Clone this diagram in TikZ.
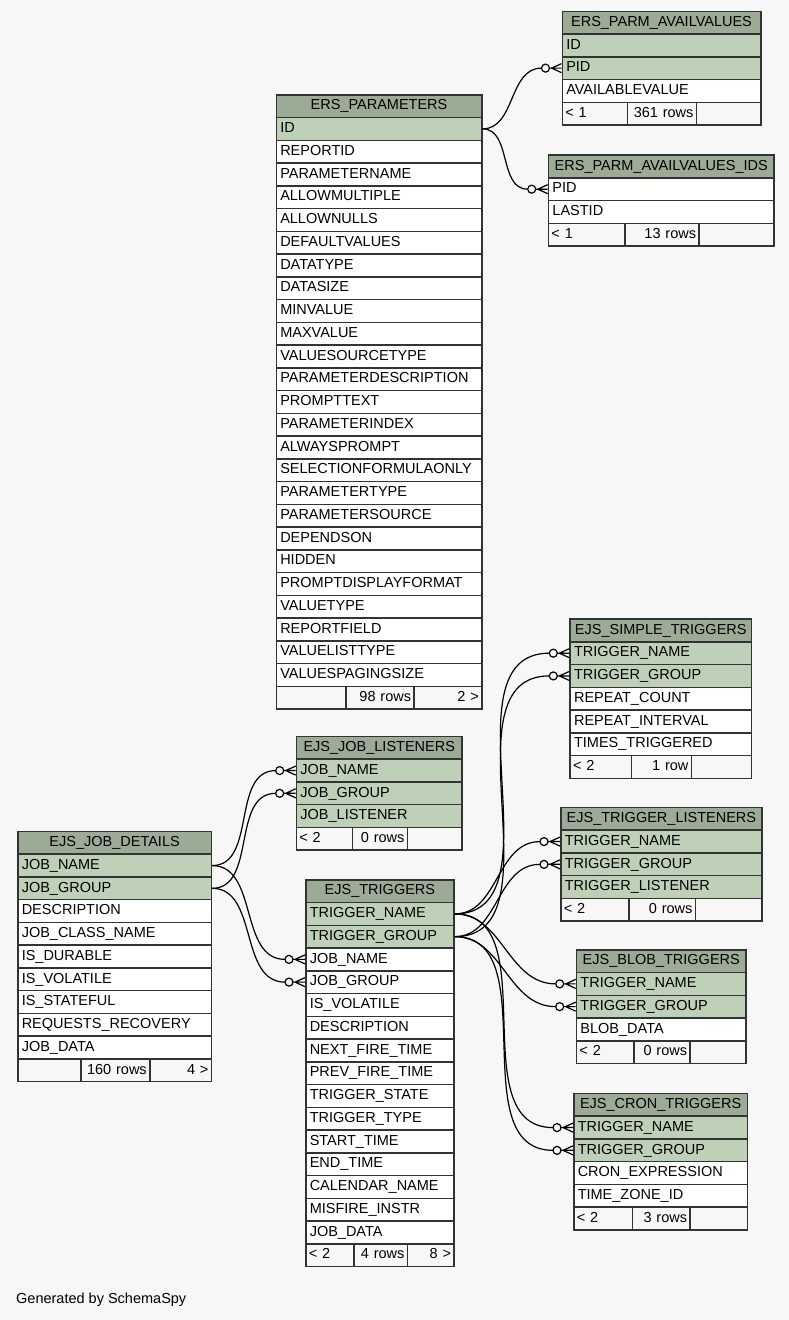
\documentclass[tikz,border=0pt]{standalone}
\usepackage{fontspec}
\setmainfont{Liberation Sans}
\usetikzlibrary{calc}

\definecolor{pagebg}{HTML}{F7F7F7}
\definecolor{headcol}{HTML}{9BAB96}
\definecolor{keycol}{HTML}{BED1B8}
\newcommand\rowh{22.75}

% one table: name, left, top, width, title, colour/field list
\newcommand\dbtable[6]{%
  \pgfmathsetmacro\cellw{#4-8}
  \node[headrow, text width=\cellw pt] (#1-h) at (#2,#3) {#5};
  \foreach [count=\i] \fc/\txt in {#6}
    \node[fieldrow, fill=\fc, text width=\cellw pt] (#1-\i) at (#2,#3+\i*\rowh) {\txt};
}
% footer line: name, top, left, cut, cut, right, three texts
\newcommand\dbfoot[9]{%
  \pgfmathsetmacro\wa{#4-#3-6}
  \pgfmathsetmacro\wb{#5-#4-6}
  \pgfmathsetmacro\wc{#6-#5-6}
  \node[footcell, text width=\wa pt, align=left] (#1-f1) at (#3,#2) {#7};
  \node[footcell, text width=\wb pt, align=right] (#1-f2) at (#4,#2) {#8};
  \node[footcell, text width=\wc pt, align=right] (#1-f3) at (#5,#2) {#9};
}
% foreign key: parent field, child field
\newcommand\fk[2]{%
  \draw[fkline] (#1.east) to[out=0, in=180] ([xshift=-20pt]#2.west);
  \draw[fkline] ([xshift=-12pt]#2.west) -- (#2.west)
    ([xshift=-10pt]#2.west) -- ([yshift=4.5pt]#2.west)
    ([xshift=-10pt]#2.west) -- ([yshift=-4.5pt]#2.west);
  \draw[fkline, fill=pagebg] ([xshift=-16pt]#2.west) circle[radius=4pt];
}

\begin{document}
\begin{tikzpicture}[x=1pt, y=-1pt,
    every node/.style={font=\fontsize{14.5}{16}\selectfont},
    tablecell/.style={draw=black!80, line width=1.5pt, anchor=north west,
      inner xsep=4pt, inner ysep=0pt, minimum height=\rowh pt,
      text height=10.5pt, text depth=3pt},
    headrow/.style={tablecell, fill=headcol, align=center},
    fieldrow/.style={tablecell, align=left},
    footcell/.style={tablecell, fill=pagebg, inner xsep=3pt},
    fkline/.style={line width=1.2pt, black}]

    \fill[pagebg] (0,0) rectangle (789,1320);
    \useasboundingbox (0,0) rectangle (789,1320);

    \dbtable{pv}{561.5}{10.5}{198.5}{ERS\_PARM\_AVAILVALUES}{keycol/ID, keycol/PID, white/AVAILABLEVALUE}
    \dbfoot{pv}{10.5+4*\rowh}{561.5}{626.7}{695.7}{760}{< 1}{361 rows}{}

    \dbtable{pi}{547.7}{154.3}{225.6}{ERS\_PARM\_AVAILVALUES\_IDS}{white/PID, white/LASTID}
    \dbfoot{pi}{154.3+3*\rowh}{547.7}{624}{698.3}{773.3}{< 1}{13 rows}{}

    \dbtable{ep}{275.5}{94}{205.5}{ERS\_PARAMETERS}{keycol/ID, white/REPORTID,
      white/PARAMETERNAME, white/ALLOWMULTIPLE, white/ALLOWNULLS, white/DEFAULTVALUES,
      white/DATATYPE, white/DATASIZE, white/MINVALUE, white/MAXVALUE,
      white/VALUESOURCETYPE, white/PARAMETERDESCRIPTION, white/PROMPTTEXT,
      white/PARAMETERINDEX, white/ALWAYSPROMPT, white/SELECTIONFORMULAONLY,
      white/PARAMETERTYPE, white/PARAMETERSOURCE, white/DEPENDSON, white/HIDDEN,
      white/PROMPTDISPLAYFORMAT, white/VALUETYPE, white/REPORTFIELD,
      white/VALUELISTTYPE, white/VALUESPAGINGSIZE}
    \dbfoot{ep}{94+26*\rowh}{275.5}{345}{413.3}{481}{}{98 rows}{2 >}

    \dbtable{jl}{295.7}{735.7}{165.6}{EJS\_JOB\_LISTENERS}{keycol/JOB\_NAME, keycol/JOB\_GROUP, keycol/JOB\_LISTENER}
    \dbfoot{jl}{735.7+4*\rowh}{295.7}{351.7}{406.7}{461.3}{< 2}{0 rows}{}

    \dbtable{jd}{17}{830.7}{193.7}{EJS\_JOB\_DETAILS}{keycol/JOB\_NAME, keycol/JOB\_GROUP,
      white/DESCRIPTION, white/JOB\_CLASS\_NAME, white/IS\_DURABLE, white/IS\_VOLATILE,
      white/IS\_STATEFUL, white/REQUESTS\_RECOVERY, white/JOB\_DATA}
    \dbfoot{jd}{830.7+10*\rowh}{17}{80}{149}{210.7}{}{160 rows}{4 >}

    \dbtable{tr}{305}{879}{148.3}{EJS\_TRIGGERS}{keycol/TRIGGER\_NAME, keycol/TRIGGER\_GROUP,
      white/JOB\_NAME, white/JOB\_GROUP, white/IS\_VOLATILE, white/DESCRIPTION,
      white/NEXT\_FIRE\_TIME, white/PREV\_FIRE\_TIME, white/TRIGGER\_STATE,
      white/TRIGGER\_TYPE, white/START\_TIME, white/END\_TIME, white/CALENDAR\_NAME,
      white/MISFIRE\_INSTR, white/JOB\_DATA}
    \dbfoot{tr}{879+16*\rowh}{305}{353}{406.7}{453.3}{< 2}{4 rows}{8 >}

    \dbtable{st}{569.3}{618.3}{181.4}{EJS\_SIMPLE\_TRIGGERS}{keycol/TRIGGER\_NAME, keycol/TRIGGER\_GROUP,
      white/REPEAT\_COUNT, white/REPEAT\_INTERVAL, white/TIMES\_TRIGGERED}
    \dbfoot{st}{618.3+6*\rowh}{569.3}{630.7}{690.7}{750.7}{< 2}{1 row}{}

    \dbtable{tl}{560}{806.7}{201.3}{EJS\_TRIGGER\_LISTENERS}{keycol/TRIGGER\_NAME, keycol/TRIGGER\_GROUP, keycol/TRIGGER\_LISTENER}
    \dbfoot{tl}{806.7+4*\rowh}{560}{628.3}{694.7}{761.3}{< 2}{0 rows}{}

    \dbtable{bt}{575.7}{949}{169.6}{EJS\_BLOB\_TRIGGERS}{keycol/TRIGGER\_NAME, keycol/TRIGGER\_GROUP, white/BLOB\_DATA}
    \dbfoot{bt}{949+4*\rowh}{575.7}{633}{689.3}{745.3}{< 2}{0 rows}{}

    \dbtable{ct}{573}{1092.7}{173.7}{EJS\_CRON\_TRIGGERS}{keycol/TRIGGER\_NAME, keycol/TRIGGER\_GROUP,
      white/CRON\_EXPRESSION, white/TIME\_ZONE\_ID}
    \dbfoot{ct}{1092.7+5*\rowh}{573}{631.7}{689.3}{746.7}{< 2}{3 rows}{}

    \fk{ep-1}{pv-2}
    \fk{ep-1}{pi-1}
    \fk{jd-1}{jl-1}
    \fk{jd-2}{jl-2}
    \fk{jd-1}{tr-3}
    \fk{jd-2}{tr-4}
    \foreach \t in {st, tl, bt, ct} {
      \fk{tr-1}{\t-1}
      \fk{tr-2}{\t-2}
    }

    \node[anchor=west, inner sep=0pt] (credit) at (16,1300) {Generated by SchemaSpy};
\end{tikzpicture}
\end{document}
